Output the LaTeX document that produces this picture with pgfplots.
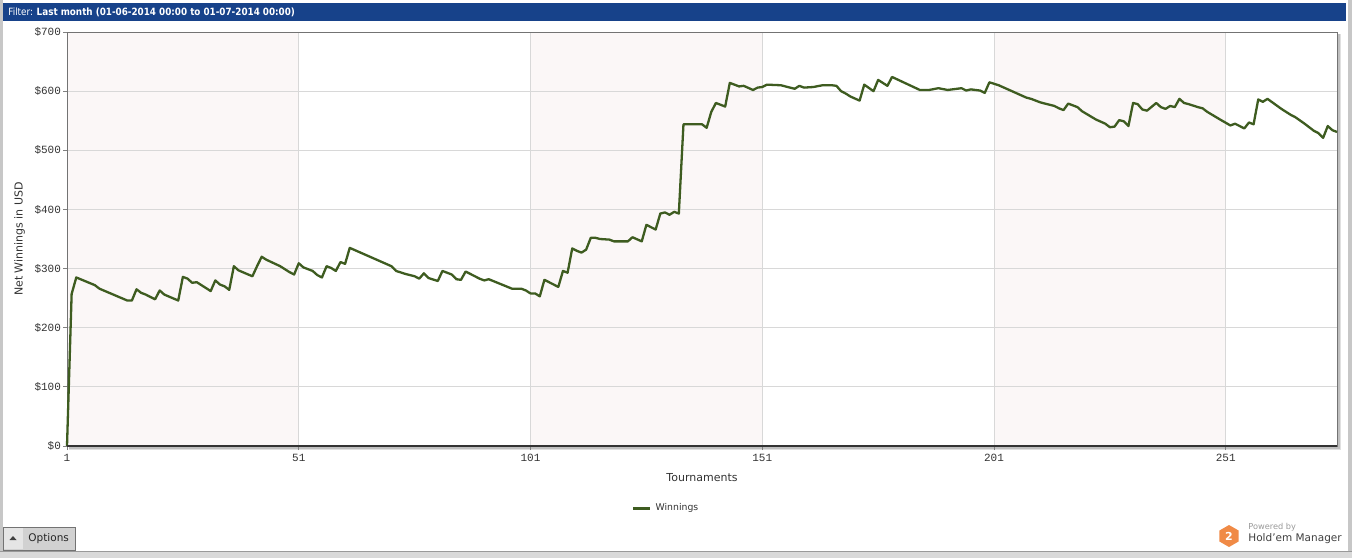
\documentclass[border=0pt]{standalone}
\usepackage{fontspec}
\setmainfont{DejaVu Sans}
\newfontfamily\monofont{Liberation Mono}
\newfontfamily\hdrfont[FakeStretch=0.88]{DejaVu Sans}
\usepackage{pgfplots}
\pgfplotsset{compat=1.18}
\definecolor{hdrblue}{RGB}{23,66,138}
\definecolor{band}{RGB}{251,247,247}
\definecolor{gridc}{RGB}{216,216,216}
\definecolor{linec}{RGB}{62,92,32}
\definecolor{txt}{RGB}{51,51,51}
\definecolor{logoorange}{RGB}{240,138,70}
\begin{document}
\begin{tikzpicture}[x=0.5pt,y=0.5pt]
\useasboundingbox (0,0) rectangle (1352,558);
\fill[white] (0,0) rectangle (1352,558);
% window borders
\fill[black!22] (0,0) rectangle (3,558);
\fill[black!22] (1348,0) rectangle (1352,558);
\fill[black!15] (0,0) rectangle (1352,6);
\draw[black!40, line width=0.4pt] (0,6.5) -- (1352,6.5);
% header
\fill[hdrblue] (3,537) rectangle (1346,555);
\node[anchor=west, text=white, font=\hdrfont\fontsize{5}{6}\selectfont, inner sep=0] at (8,546) {Filter: \textbf{Last month (01-06-2014 00:00 to 01-07-2014 00:00)}};
% shadow
\fill[black!12] (69,108) rectangle (1341,524);
\fill[black!25] (69,109.5) rectangle (1339.5,524);
\begin{axis}[
  at={(33.5pt,56pt)}, anchor=south west, scale only axis,
  width=635pt, height=207pt,
  xmin=1, xmax=275, ymin=0, ymax=700,
  axis background/.style={fill=white},
  clip=false,
  xtick={1,51,101,151,201,251}, xticklabels={1,51,101,151,201,251},
  ytick={0,100,...,700}, yticklabels={\$0,\$100,\$200,\$300,\$400,\$500,\$600,\$700},
  tick label style={font=\monofont\fontsize{5.5}{6}\selectfont, text=txt},
  yticklabel style={xshift=2.5pt},
  xticklabel style={yshift=1.5pt},
  tick align=outside, tick pos=left, major tick length=2pt,
  tick style={black!50, line width=0.4pt},
  axis line style={black!55, line width=0.4pt},
  xlabel={Tournaments}, ylabel={Net Winnings in USD},
  label style={font=\fontsize{5.5}{6.5}\selectfont, text=txt},
  xlabel style={at={(axis description cs:0.5,-0.0773)}, anchor=center},
  ylabel style={at={(axis description cs:-0.0374,0.5)}, anchor=center},
  legend style={at={(axis description cs:0.4724,-0.1498)}, anchor=center, draw=none, fill=none, font=\fontsize{4.65}{5.5}\selectfont, text=txt},
  legend image code/.code={\draw[#1, line width=1.5pt] (0pt,0pt) -- (8.5pt,0pt);},
]
\addplot[fill=band, draw=none, forget plot] coordinates {(1,0)(1,700)(51,700)(51,0)} \closedcycle;
\addplot[fill=band, draw=none, forget plot] coordinates {(101,0)(101,700)(151,700)(151,0)} \closedcycle;
\addplot[fill=band, draw=none, forget plot] coordinates {(201,0)(201,700)(251,700)(251,0)} \closedcycle;
\addplot[gridc, line width=0.4pt, forget plot] coordinates {(51,0)(51,700)};
\addplot[gridc, line width=0.4pt, forget plot] coordinates {(101,0)(101,700)};
\addplot[gridc, line width=0.4pt, forget plot] coordinates {(151,0)(151,700)};
\addplot[gridc, line width=0.4pt, forget plot] coordinates {(201,0)(201,700)};
\addplot[gridc, line width=0.4pt, forget plot] coordinates {(251,0)(251,700)};
\addplot[gridc, line width=0.4pt, forget plot] coordinates {(1,100)(275,100)};
\addplot[gridc, line width=0.4pt, forget plot] coordinates {(1,200)(275,200)};
\addplot[gridc, line width=0.4pt, forget plot] coordinates {(1,300)(275,300)};
\addplot[gridc, line width=0.4pt, forget plot] coordinates {(1,400)(275,400)};
\addplot[gridc, line width=0.4pt, forget plot] coordinates {(1,500)(275,500)};
\addplot[gridc, line width=0.4pt, forget plot] coordinates {(1,600)(275,600)};
\addplot[black!55, line width=0.5pt, forget plot] coordinates {(1,0)(1,700)(275,700)(275,0)};
\addplot[linec, line width=1.15pt, line join=round, mark=none] coordinates {
(1,0)(2,257)(3,285)(7,272)(8,266)(14,246)(15,246)(16,265)(17,259)(18,256)(20,248)(21,263)(22,256)(25,246)(26,286)(27,283)(28,276)(29,277)(30,272)(32,262)(33,280)(34,273)(35,270)(36,264)(37,304)(38,297)(41,287)(42,304)(43,320)(44,315)(47,304)(49,294)(50,290)(51,309)(52,302)(54,296)(55,289)(56,285)(57,304)(58,301)(59,296)(60,311)(61,308)(62,335)(71,304)(72,296)(74,291)(76,287)(77,283)(78,292)(79,284)(81,279)(82,296)(84,290)(85,282)(86,281)(87,295)(90,283)(91,280)(92,282)(97,266)(99,266)(100,263)(101,258)(102,258)(103,253)(104,281)(107,269)(108,296)(109,293)(110,334)(111,330)(112,327)(113,332)(114,352)(115,352)(116,350)(118,349)(119,346)(122,346)(123,353)(125,346)(126,374)(128,366)(129,393)(130,395)(131,391)(132,396)(133,393)(134,544)(138,544)(139,538)(140,565)(141,580)(143,574)(144,614)(146,608)(147,609)(149,602)(150,606)(151,607)(152,611)(155,610)(158,604)(159,609)(160,606)(162,607)(164,610)(166,610)(167,609)(168,600)(169,596)(170,591)(172,584)(173,611)(175,600)(176,619)(178,609)(179,624)(185,602)(187,602)(189,605)(191,602)(194,605)(195,601)(196,603)(198,601)(199,597)(200,615)(202,610)(208,589)(209,587)(211,581)(212,579)(214,575)(215,571)(216,568)(217,579)(219,573)(220,566)(223,552)(225,545)(226,539)(227,540)(228,551)(229,549)(230,541)(231,580)(232,578)(233,569)(234,567)(236,580)(237,573)(238,570)(239,575)(240,573)(241,587)(242,580)(243,578)(245,573)(246,571)(247,565)(250,551)(252,542)(253,545)(255,537)(256,547)(257,544)(258,586)(259,582)(260,587)(263,570)(265,560)(266,556)(268,545)(270,533)(271,529)(272,521)(273,541)(274,534)(275,531)
};
\addlegendentry{Winnings}
\addplot[black!80, line width=1.2pt, forget plot] coordinates {(1,0)(275,0)};
\end{axis}
% options button
\fill[black!18] (3,8) rectangle (75,31);
\fill[black!10] (4,9) rectangle (23,30);
\draw[black!55, line width=0.4pt] (3,8) rectangle (75,31);
\fill[black!75] (9.5,18) -- (16.5,18) -- (13,22) -- cycle;
\node[anchor=west, inner sep=0, text=black!85, font=\fontsize{5.25}{6}\selectfont] at (28,19.5) {Options};
% logo
\fill[logoorange] (1229,22) ++(90:11) -- ++(210:11) -- ++(270:11) -- ++(330:11) -- ++(30:11) -- ++(90:11) -- cycle;
\node[text=white, font=\bfseries\fontsize{5.5}{6}\selectfont, inner sep=0] at (1229,22) {2};
\node[anchor=west, inner sep=0, text=black!40, font=\fontsize{4.1}{5}\selectfont] at (1248,30.5) {Powered by};
\node[anchor=west, inner sep=0, text=black!75, font=\fontsize{5.25}{6}\selectfont] at (1248,19) {Hold'em Manager};
\end{tikzpicture}
\end{document}
